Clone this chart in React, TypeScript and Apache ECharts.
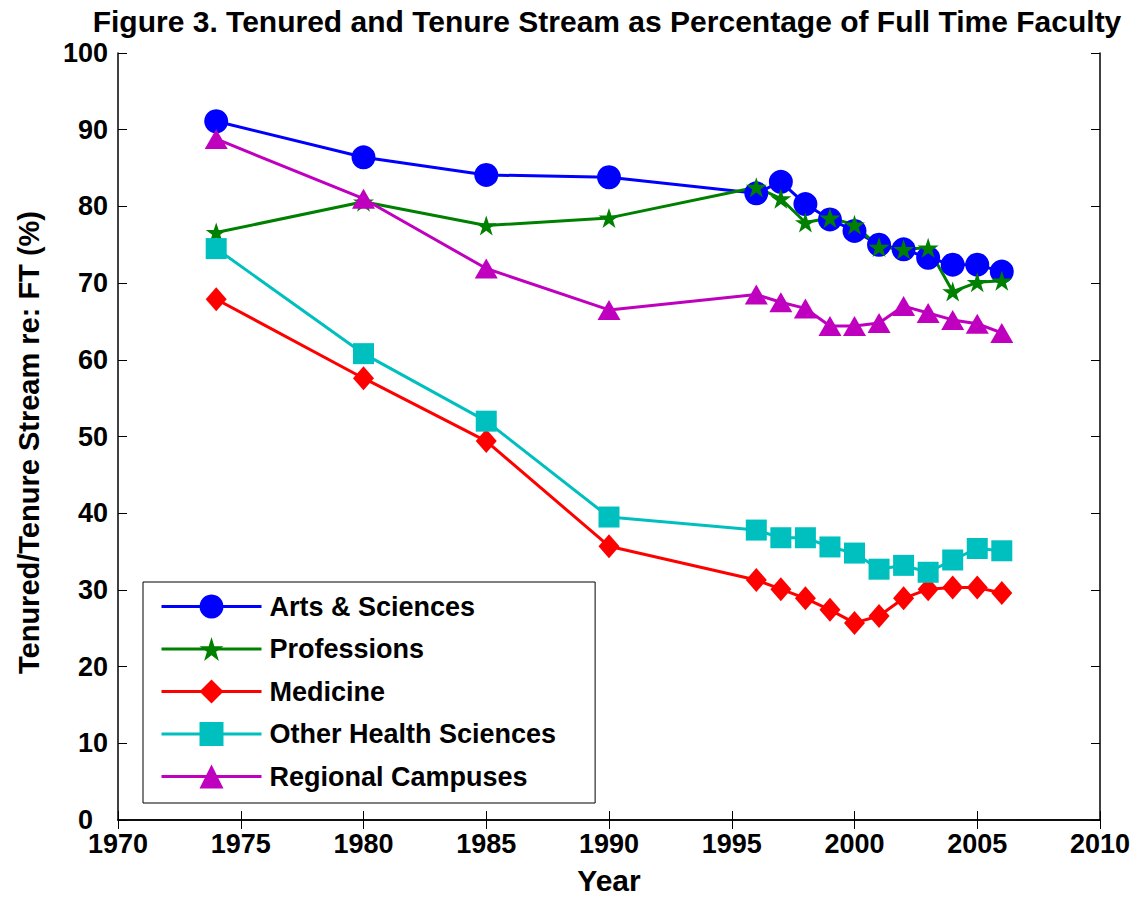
import React, { useEffect, useRef } from "react";
import * as echarts from "echarts";

const years = [1974, 1980, 1985, 1990, 1996, 1997, 1998, 1999, 2000, 2001, 2002, 2003, 2004, 2005, 2006];
const artsSciences = [91.1, 86.4, 84.1, 83.8, 81.7, 83.2, 80.3, 78.3, 76.8, 75.0, 74.4, 73.3, 72.4, 72.4, 71.5];
const professions = [76.6, 80.6, 77.5, 78.5, 82.5, 81.0, 77.9, 78.5, 77.6, 74.7, 74.4, 74.6, 68.9, 70.1, 70.3];
const medicine = [67.9, 57.6, 49.4, 35.7, 31.3, 30.1, 28.9, 27.4, 25.7, 26.6, 28.9, 30.1, 30.3, 30.3, 29.6];
const otherHealth = [74.5, 60.8, 52.0, 39.5, 37.8, 36.8, 36.8, 35.6, 34.8, 32.7, 33.2, 32.3, 33.9, 35.4, 35.1];
const regional = [88.8, 81.0, 71.9, 66.5, 68.5, 67.5, 66.7, 64.4, 64.4, 64.8, 67.0, 66.1, 65.2, 64.7, 63.5];

const seriesNames = ["Arts & Sciences", "Professions", "Medicine", "Other Health Sciences", "Regional Campuses"];
const seriesColors = ["#0000FF", "#008000", "#FF0000", "#00BFBF", "#BF00BF"];

const STAR =
  "path://M0,-1 L0.2245,-0.309 L0.951,-0.309 L0.363,0.118 L0.588,0.809 L0,0.382 L-0.588,0.809 L-0.363,0.118 L-0.951,-0.309 L-0.2245,-0.309 Z";

const FONT = "'Liberation Sans', Arial, sans-serif";

export default function App() {
  const ref = useRef<HTMLDivElement>(null);
  useEffect(() => {
    if (!ref.current) return;
    const chart = echarts.init(ref.current, null, { renderer: "svg" });
    const allValues = [artsSciences, professions, medicine, otherHealth, regional];
    const symbols: any[] = ["circle", STAR, "diamond", "rect", "triangle"];
    const sizes: any[] = [24, [21, 20], [21, 24], 21, [23, 20]];
    const series = allValues.map((vals, i) => ({
      name: seriesNames[i],
      type: "line",
      data: years.map((y, j) => [y, vals[j]]),
      symbol: symbols[i],
      symbolSize: sizes[i],
      showSymbol: true,
      lineStyle: { color: seriesColors[i], width: 3 },
      itemStyle: { color: seriesColors[i], borderWidth: 0 },
      emphasis: { disabled: true },
      xAxisIndex: 0,
      yAxisIndex: 0,
    }));
    const tickStyle = { show: true, inside: true, length: 9, lineStyle: { color: "#000", width: 1 } };
    const lineStyle = { show: true, lineStyle: { color: "#000", width: 1.5 } };
    const labelFont = { fontFamily: FONT, fontWeight: "bold", fontSize: 27, color: "#000" };
    chart.setOption({
      animation: false,
      backgroundColor: "#fff",
      textStyle: { fontFamily: FONT },
      title: {
        text: "Figure 3. Tenured and Tenure Stream as Percentage of Full Time Faculty",
        left: 602,
        textAlign: "center",
        top: 1,
        textStyle: { fontFamily: FONT, fontWeight: "bold", fontSize: 30, color: "#000" },
      },
      grid: { left: 118, top: 53, right: 47, bottom: 74, containLabel: false },
      legend: {
        orient: "vertical",
        left: 143,
        top: 582,
        padding: [11, 39, 13, 17],
        itemWidth: 100,
        itemHeight: 30,
        itemGap: 15.5,
        borderColor: "#000",
        borderWidth: 1,
        backgroundColor: "#fff",
        borderRadius: 0,
        lineStyle: { width: 3 },
        textStyle: { ...labelFont, padding: [0, 0, 0, 3] },
        data: seriesNames,
      },
      xAxis: [
        {
          type: "value",
          min: 1970,
          max: 2010,
          interval: 5,
          position: "bottom",
          name: "Year",
          nameLocation: "middle",
          nameGap: 45,
          nameTextStyle: { fontFamily: FONT, fontWeight: "bold", fontSize: 30, color: "#000" },
          axisLine: lineStyle,
          axisTick: tickStyle,
          axisLabel: {
            ...labelFont,
            margin: 10,
            formatter: (v: number) => String(v),
          },
          splitLine: { show: false },
        },
        {
          type: "value",
          min: 1970,
          max: 2010,
          interval: 5,
          position: "top",
          axisLine: lineStyle,
          axisTick: tickStyle,
          axisLabel: { show: false },
          splitLine: { show: false },
        },
      ],
      yAxis: [
        {
          type: "value",
          min: 0,
          max: 100,
          interval: 10,
          position: "left",
          name: "Tenured/Tenure Stream re: FT (%)",
          nameLocation: "middle",
          nameGap: 75,
          nameTextStyle: {
            fontFamily: FONT,
            fontWeight: "bold",
            fontSize: 29,
            color: "#000",
            padding: [0, 12, 0, 0],
          },
          axisLine: lineStyle,
          axisTick: tickStyle,
          axisLabel: {
            ...labelFont,
            margin: 10,
            formatter: (v: number) => (v === 0 ? "{z|0}" : String(v)),
            rich: { z: { ...labelFont, padding: [0, 15, 0, 0] } },
          },
          splitLine: { show: false },
        },
        {
          type: "value",
          min: 0,
          max: 100,
          interval: 10,
          position: "right",
          axisLine: lineStyle,
          axisTick: tickStyle,
          axisLabel: { show: false },
          splitLine: { show: false },
        },
      ],
      series,
    });
    return () => chart.dispose();
  }, []);
  return (
    <div
      ref={ref}
      style={{ position: "absolute", left: 0, top: 0, width: 1147, height: 900 }}
    />
  );
}
